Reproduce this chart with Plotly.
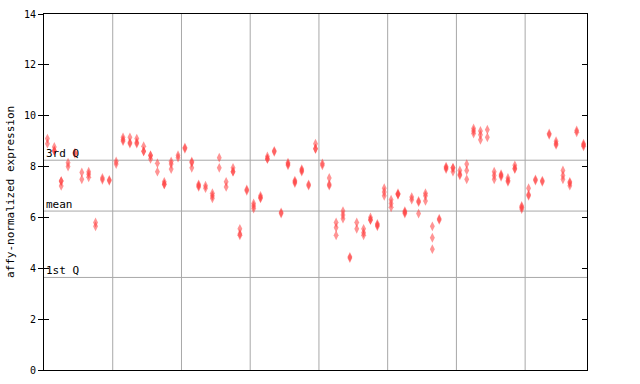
import plotly.graph_objects as go

# replicate values per sample (79 samples, in order)
sample_values = [
    [9.1, 8.9], [8.77, 8.62, 8.62], [7.43, 7.43, 7.24], [8.15, 8.0], [8.55, 8.5],
    [7.77, 7.5], [7.8, 7.7, 7.58], [5.8, 5.65], [7.55, 7.48], [7.48, 7.44],
    [8.2, 8.1], [9.15, 9.0, 9.05], [9.15, 8.95, 8.9], [9.1, 8.95, 8.9], [8.8, 8.6, 8.6],
    [8.45, 8.43, 8.3], [8.13, 7.8], [7.4, 7.3, 7.3], [8.2, 8.1, 7.9], [8.45, 8.35],
    [8.75, 8.7], [8.2, 8.15, 7.95], [7.3, 7.25, 7.2], [7.25, 7.15], [6.95, 6.85, 6.75],
    [8.35, 7.95], [7.4, 7.2], [7.95, 7.8, 7.8], [5.55, 5.3, 5.35], [7.1, 7.05],
    [6.55, 6.45, 6.35], [6.85, 6.78, 6.75], [8.4, 8.3, 8.3], [8.62, 8.58], [6.2, 6.15],
    [8.15, 8.1, 8.05], [7.45, 7.4, 7.35], [7.9, 7.85, 7.8], [7.3, 7.25], [8.9, 8.7, 8.7],
    [8.12, 8.05], [7.55, 7.3, 7.25], [5.8, 5.6, 5.3], [6.25, 6.1, 5.95], [4.45, 4.4],
    [5.8, 5.55], [5.55, 5.4, 5.3], [6.0, 5.9, 5.9], [5.75, 5.7, 5.65], [7.15, 7.0, 6.85],
    [6.7, 6.55, 6.4], [6.95, 6.9, 6.9], [6.25, 6.2, 6.15], [6.8, 6.7], [6.65, 6.6, 6.15],
    [6.95, 6.85, 6.65], [5.65, 5.2, 4.75], [5.95, 5.9], [8.0, 7.95, 7.9], [7.95, 7.95, 7.8],
    [7.85, 7.7, 7.65], [8.1, 7.85, 7.5], [9.5, 9.4, 9.3], [9.4, 9.25, 9.05], [9.45, 9.15],
    [7.8, 7.65, 7.5], [7.7, 7.65, 7.6], [7.55, 7.45, 7.4], [8.05, 7.93, 7.9], [6.45, 6.4, 6.33],
    [7.15, 6.9, 6.85], [7.5, 7.45], [7.45, 7.4], [9.3, 9.25], [9.0, 8.9, 8.85],
    [7.85, 7.65, 7.5], [7.4, 7.35, 7.25], [9.42, 9.35], [8.9, 8.85, 8.8],
]
group_size = 10
q3_value = 8.25
mean_value = 6.25
q1_value = 3.64
y_ticks = [0, 2, 4, 6, 8, 10, 12, 14]
ref_labels = ["3rd Q", "mean", "1st Q"]

xs, ys = [], []
for i, vals in enumerate(sample_values):
    for v in vals:
        xs.append(i)
        ys.append(v)

n = len(sample_values)
fig = go.Figure()
fig.add_trace(go.Scatter(
    x=xs, y=ys, mode="markers",
    marker=dict(symbol="diamond-tall", size=7, color="rgba(255,60,60,0.55)",
                line=dict(width=0)),
    hoverinfo="y", showlegend=False))

grid_color = "#a8a8a8"
shapes = []
for b in range(group_size, n, group_size):
    shapes.append(dict(type="line", xref="x", yref="paper", x0=b - 0.5, x1=b - 0.5,
                       y0=0, y1=1, line=dict(color=grid_color, width=1), layer="below"))
for val in (q3_value, mean_value, q1_value):
    shapes.append(dict(type="line", xref="paper", yref="y", x0=0, x1=1, y0=val, y1=val,
                       line=dict(color=grid_color, width=1), layer="below"))

mono = "DejaVu Sans Mono"
annotations = []
for lab, val in zip(ref_labels, (q3_value, mean_value, q1_value)):
    annotations.append(dict(text=lab, xref="paper", yref="y", x=0, y=val, xanchor="left",
                            yanchor="bottom", showarrow=False, xshift=0, yshift=-2,
                            font=dict(family=mono, size=11, color="black")))
annotations.append(dict(text="affy-normalized expression", xref="paper", yref="paper",
                        x=(10 - 44) / 543, y=0.5, textangle=-90, showarrow=False,
                        xanchor="center", yanchor="middle",
                        font=dict(family=mono, size=11, color="black")))

fig.update_layout(
    width=640, height=384,
    margin=dict(l=44, r=53, t=10, b=8),
    paper_bgcolor="white", plot_bgcolor="white",
    shapes=shapes, annotations=annotations,
    xaxis=dict(range=[-0.5, n - 0.5], showgrid=False, zeroline=False, showticklabels=False,
               ticks="", showline=True, linecolor="black", linewidth=1, mirror=True),
    yaxis=dict(range=[0, 14], tickvals=y_ticks, ticks="outside", ticklen=5, tickcolor="black",
               showgrid=False, zeroline=False, showline=True, linecolor="black", linewidth=1,
               mirror=True, tickfont=dict(family=mono, size=10, color="black")),
    yaxis2=dict(range=[0, 14], tickvals=y_ticks, ticks="inside", ticklen=5, tickcolor="black",
                overlaying="y", side="right", showticklabels=False, showgrid=False,
                zeroline=False, showline=False),
    yaxis3=dict(range=[0, 14], tickvals=y_ticks, ticks="inside", ticklen=5, tickcolor="black",
                overlaying="y", side="left", showticklabels=False, showgrid=False,
                zeroline=False, showline=False),
)
fig.add_trace(go.Scatter(x=[None], y=[None], yaxis="y2", showlegend=False, hoverinfo="skip"))
fig.add_trace(go.Scatter(x=[None], y=[None], yaxis="y3", showlegend=False, hoverinfo="skip"))
fig.write_html("out.html", config={"displayModeBar": False},
               post_script="document.body.style.margin='0';")
